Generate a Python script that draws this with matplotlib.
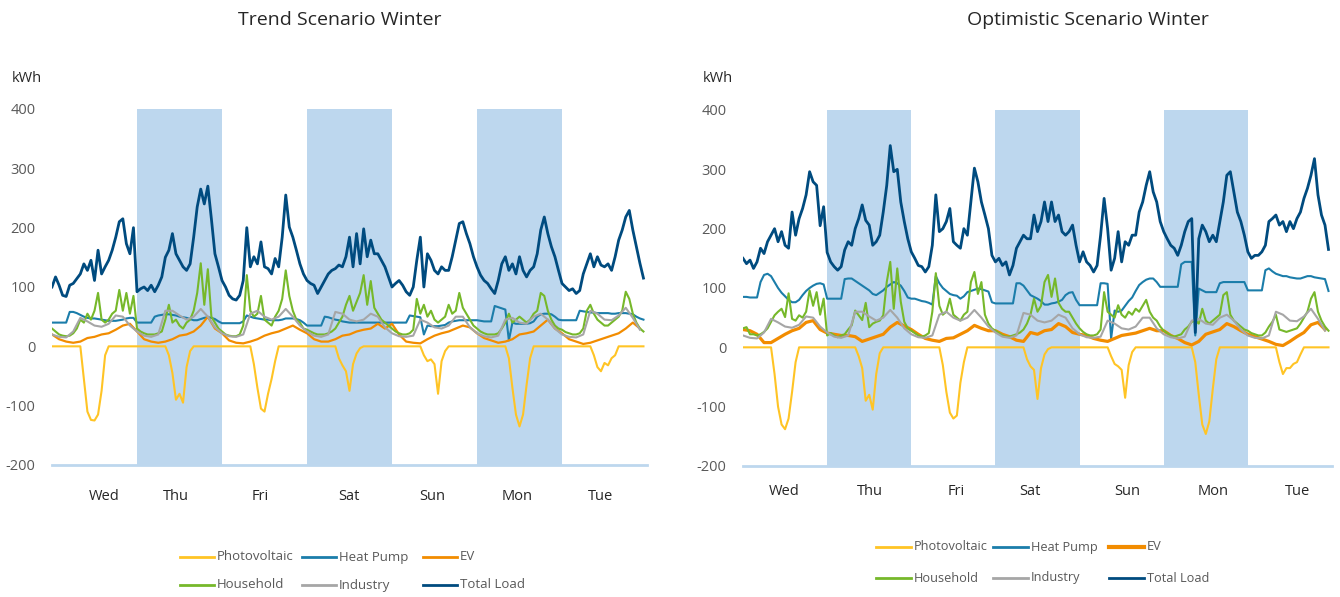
import numpy as np
import matplotlib
matplotlib.use("Agg")
import matplotlib.pyplot as plt
from matplotlib.lines import Line2D

plt.rcParams['font.family'] = ['Open Sans', 'DejaVu Sans']

# ---------------- data ----------------
days = ["Wed", "Thu", "Fri", "Sat", "Sun", "Mon", "Tue"]
shaded_days = [1, 3, 5]          # Thu, Sat, Mon
titles = ["Trend Scenario Winter", "Optimistic Scenario Winter"]
series_names = ["Photovoltaic", "Heat Pump", "EV", "Household", "Industry", "Total Load"]
unit = "kWh"
yticks = [-200, -100, 0, 100, 200, 300, 400]

# ---- Trend scenario (hourly unless noted) ----
trend_total = [
    100, 117, 103, 86, 84, 103, 106, 114, 122, 139, 128, 145, 111, 162, 122, 134, 145, 162, 184, 210, 215, 173, 156, 200,
    92, 97, 100, 94, 103, 92, 103, 117, 150, 162, 190, 156, 145, 134, 128, 139, 184, 235, 265, 240, 270, 215, 156, 134,
    111, 100, 86, 80, 78, 86, 111, 200, 134, 151, 139, 176, 134, 131, 122, 148, 134, 184, 255, 201, 184, 162, 139, 122,
    111, 106, 103, 89, 100, 111, 122, 128, 131, 137, 134, 151, 184, 134, 190, 139, 198, 151, 179, 156, 156, 145, 134, 117,
    100, 106, 111, 103, 92, 86, 100, 145, 184, 100, 156, 145, 128, 122, 134, 128, 128, 151, 179, 207, 210, 190, 173, 151,
    134, 120, 111, 106, 97, 89, 111, 139, 151, 128, 139, 122, 151, 128, 117, 128, 134, 156, 196, 218, 190, 168, 151, 128,
    106, 100, 94, 97, 89, 94, 122, 139, 156, 134, 151, 137, 134, 139, 128, 151, 179, 196, 218, 229, 196, 168, 140, 115,
]
trend_household = [
    30, 25, 20, 18, 17, 18, 22, 30, 45, 40, 55, 45, 60, 90, 45, 40, 45, 55, 60, 95, 60, 90, 55, 85,
    30, 25, 22, 20, 20, 20, 22, 25, 45, 70, 40, 45, 35, 30, 40, 45, 60, 90, 140, 70, 130, 50, 40, 30,
    25, 20, 18, 17, 17, 20, 35, 120, 60, 50, 55, 85, 45, 40, 35, 50, 60, 80, 128, 85, 60, 45, 40, 30,
    28, 25, 22, 20, 20, 20, 22, 25, 30, 40, 50, 70, 85, 60, 75, 90, 120, 70, 110, 65, 55, 45, 40, 35,
    30, 25, 22, 20, 20, 22, 28, 80, 55, 70, 50, 60, 45, 40, 45, 50, 70, 55, 60, 90, 65, 55, 45, 35,
    30, 25, 22, 20, 20, 20, 22, 30, 40, 55, 40, 45, 50, 45, 40, 45, 55, 60, 90, 85, 60, 45, 35, 30,
    28, 24, 22, 20, 20, 22, 30, 60, 70, 55, 45, 40, 35, 35, 40, 45, 50, 60, 92, 80, 55, 40, 30, 25,
]
trend_heatpump = [
    40, 40, 40, 40, 40, 58, 58, 56, 53, 50, 48, 47, 47, 46, 45, 44, 43, 43, 43, 44, 45, 47, 48, 48,
    40, 40, 40, 40, 40, 50, 52, 53, 54, 54, 53, 52, 50, 49, 48, 46, 44, 44, 46, 48, 49, 48, 46, 42,
    39, 39, 39, 39, 39, 39, 42, 52, 50, 48, 47, 46, 45, 45, 44, 44, 44, 45, 47, 47, 47, 46, 44, 40,
    35, 35, 35, 35, 35, 50, 49, 47, 45, 44, 42, 41, 40, 40, 40, 40, 40, 40, 40, 40, 40, 40, 40, 40,
    40, 40, 40, 40, 40, 52, 51, 50, 49, 20, 35, 34, 34, 34, 35, 36, 40, 42, 43, 44, 44, 44, 44, 44,
    44, 43, 42, 42, 42, 68, 66, 64, 62, 10, 40, 38, 38, 38, 38, 39, 42, 50, 54, 55, 55, 54, 50, 45,
    44, 44, 44, 44, 44, 60, 59, 58, 57, 57, 56, 56, 56, 56, 55, 55, 56, 56, 56, 55, 54, 50, 47, 45,
]
# EV every 2 hours
trend_ev = [
    20, 12, 8, 6, 8, 14, 16, 20, 22, 28, 35, 38,
    25, 12, 8, 6, 8, 12, 18, 20, 25, 35, 50, 30,
    22, 10, 6, 5, 8, 12, 18, 22, 25, 30, 35, 28,
    22, 12, 8, 8, 12, 18, 20, 25, 28, 30, 38, 30,
    38, 20, 8, 6, 5, 12, 18, 22, 25, 30, 35, 32,
    22, 14, 10, 6, 8, 12, 20, 22, 25, 35, 45, 30,
    22, 12, 8, 4, 6, 10, 14, 18, 22, 30, 40, 30,
]
trend_pv = [
    0, 0, 0, 0, 0, 0, 0, 0, 0, -55, -110, -124, -125, -115, -75, -15, 0, 0, 0, 0, 0, 0, 0, 0,
    0, 0, 0, 0, 0, 0, 0, 0, 0, -15, -45, -90, -80, -95, -35, -8, 0, 0, 0, 0, 0, 0, 0, 0,
    0, 0, 0, 0, 0, 0, 0, 0, 0, -30, -70, -105, -110, -80, -55, -25, 0, 0, 0, 0, 0, 0, 0, 0,
    0, 0, 0, 0, 0, 0, 0, 0, 0, -20, -32, -42, -75, -30, -12, -3, 0, 0, 0, 0, 0, 0, 0, 0,
    0, 0, 0, 0, 0, 0, 0, 0, 0, -15, -25, -22, -30, -80, -25, -8, 0, 0, 0, 0, 0, 0, 0, 0,
    0, 0, 0, 0, 0, 0, 0, 0, 0, -20, -70, -115, -135, -115, -65, -20, 0, 0, 0, 0, 0, 0, 0, 0,
    0, 0, 0, 0, 0, 0, 0, 0, 0, -15, -35, -42, -28, -32, -20, -15, 0, 0, 0, 0, 0, 0, 0, 0,
]

# ---- Optimistic scenario ----
opt_total = [
    150, 141, 147, 133, 144, 167, 158, 178, 189, 200, 178, 195, 172, 167, 228, 189, 217, 234, 257, 296, 279, 273, 205, 237,
    160, 144, 136, 130, 136, 164, 178, 172, 200, 217, 240, 214, 206, 172, 178, 189, 228, 273, 340, 296, 300, 245, 212, 183,
    161, 150, 138, 136, 127, 136, 172, 257, 195, 200, 212, 234, 178, 172, 167, 200, 189, 245, 302, 279, 245, 223, 200, 155,
    144, 150, 138, 144, 122, 138, 167, 178, 189, 183, 183, 223, 195, 212, 245, 212, 245, 212, 223, 195, 189, 195, 206, 172,
    144, 161, 144, 138, 127, 138, 189, 251, 200, 130, 150, 195, 144, 178, 172, 189, 189, 228, 245, 273, 296, 262, 245, 212,
    195, 183, 172, 167, 155, 172, 195, 212, 217, 25, 183, 206, 195, 178, 189, 178, 212, 245, 290, 296, 262, 228, 212, 189,
    161, 150, 155, 155, 161, 172, 212, 217, 223, 206, 212, 195, 212, 200, 217, 228, 251, 268, 290, 318, 257, 223, 206, 165,
]
opt_household = [
    32, 34, 22, 22, 20, 22, 26, 32, 43, 54, 60, 65, 51, 91, 48, 45, 54, 50, 60, 96, 70, 93, 55, 82,
    20, 24, 20, 17, 20, 22, 30, 37, 62, 54, 46, 75, 34, 40, 43, 45, 54, 110, 144, 65, 133, 77, 43, 32,
    28, 24, 20, 18, 20, 24, 60, 125, 70, 55, 60, 82, 55, 50, 45, 55, 60, 110, 127, 90, 110, 55, 40, 32,
    28, 24, 20, 18, 18, 20, 22, 25, 30, 40, 55, 82, 60, 70, 110, 122, 85, 116, 75, 65, 60, 60, 50, 40,
    32, 26, 22, 20, 20, 22, 30, 93, 60, 55, 50, 71, 55, 50, 60, 55, 65, 60, 70, 80, 60, 50, 45, 35,
    28, 24, 20, 18, 20, 22, 30, 35, 43, 45, 40, 65, 45, 40, 45, 50, 55, 88, 93, 55, 45, 40, 35, 30,
    28, 24, 22, 20, 20, 25, 35, 43, 55, 30, 28, 26, 28, 30, 32, 40, 50, 60, 82, 93, 60, 45, 35, 28,
]
opt_heatpump = [
    85, 85, 84, 84, 84, 110, 122, 124, 120, 110, 100, 92, 86, 80, 76, 76, 80, 88, 95, 100, 104, 107, 108, 106,
    82, 82, 82, 82, 82, 115, 116, 116, 112, 108, 104, 100, 96, 90, 88, 92, 96, 102, 106, 110, 108, 104, 95, 84,
    82, 82, 80, 78, 77, 75, 72, 120, 108, 100, 95, 90, 88, 87, 82, 86, 93, 95, 97, 99, 98, 96, 94, 76,
    74, 74, 74, 74, 74, 74, 108, 108, 104, 96, 88, 85, 82, 78, 72, 72, 74, 75, 77, 80, 88, 92, 93, 80,
    71, 71, 71, 71, 71, 71, 108, 108, 107, 15, 62, 60, 62, 70, 78, 84, 95, 105, 110, 114, 116, 116, 110, 102,
    102, 102, 102, 102, 102, 140, 144, 144, 144, 20, 99, 96, 93, 93, 93, 93, 108, 110, 110, 110, 110, 110, 110, 110,
    96, 96, 96, 96, 96, 130, 133, 128, 124, 122, 120, 120, 118, 117, 116, 116, 118, 120, 120, 118, 117, 116, 115, 95,
]
opt_ev = [
    30, 28, 22, 8, 8, 15, 22, 28, 32, 42, 45, 30,
    24, 22, 20, 20, 18, 10, 14, 18, 22, 34, 42, 36,
    30, 22, 15, 12, 10, 15, 16, 22, 28, 37, 32, 28,
    28, 22, 18, 12, 10, 25, 22, 28, 30, 40, 35, 25,
    22, 20, 15, 12, 10, 15, 20, 22, 24, 28, 32, 28,
    28, 20, 15, 8, 4, 10, 22, 26, 30, 40, 35, 28,
    22, 18, 14, 10, 5, 3, 10, 18, 25, 38, 42, 30,
]
opt_pv = [
    0, 0, 0, 0, 0, 0, 0, 0, 0, -45, -100, -130, -138, -120, -75, -25, 0, 0, 0, 0, 0, 0, 0, 0,
    0, 0, 0, 0, 0, 0, 0, 0, 0, -15, -35, -90, -80, -105, -45, -10, 0, 0, 0, 0, 0, 0, 0, 0,
    0, 0, 0, 0, 0, 0, 0, 0, 0, -30, -75, -110, -120, -115, -60, -25, 0, 0, 0, 0, 0, 0, 0, 0,
    0, 0, 0, 0, 0, 0, 0, 0, 0, -20, -32, -38, -87, -35, -12, -3, 0, 0, 0, 0, 0, 0, 0, 0,
    0, 0, 0, 0, 0, 0, 0, 0, 0, -15, -28, -32, -38, -85, -30, -8, 0, 0, 0, 0, 0, 0, 0, 0,
    0, 0, 0, 0, 0, 0, 0, 0, 0, -25, -80, -130, -146, -125, -70, -20, 0, 0, 0, 0, 0, 0, 0, 0,
    0, 0, 0, 0, 0, 0, 0, 0, 0, -25, -45, -35, -35, -28, -25, -12, 0, 0, 0, 0, 0, 0, 0, 0,
]

# Industry (same in both scenarios), every 2 hours
industry = [
    20, 16, 15, 25, 48, 42, 35, 33, 38, 52, 50, 35,
    25, 18, 16, 20, 60, 60, 52, 45, 50, 63, 50, 32,
    22, 17, 16, 20, 55, 60, 50, 45, 50, 63, 50, 35,
    25, 18, 16, 20, 58, 55, 45, 42, 45, 55, 50, 32,
    22, 17, 16, 18, 45, 40, 32, 30, 35, 50, 50, 32,
    22, 17, 15, 18, 45, 48, 40, 38, 50, 55, 45, 30,
    20, 16, 15, 20, 60, 55, 45, 44, 52, 65, 48, 28,
]

# ---------------- style ----------------
W, H = 1340, 597
colors = {
    "Photovoltaic": "#FFC425",
    "Heat Pump": "#1B7DAA",
    "EV": "#F28C00",
    "Household": "#76B82A",
    "Industry": "#A6A6A6",
    "Total Load": "#004B7F",
}
shade_color = "#BDD7EE"
tick_color = "#595959"
text_dark = "#262626"

fig = plt.figure(figsize=(W / 100, H / 100), dpi=100)

panels = [
    dict(rect=[52 / W, 1 - 465 / H, 595 / W, 356 / H],
         data=[trend_pv, trend_heatpump, trend_ev, trend_household, industry, trend_total],
         label_hours=[14.7, 35.0, 58.7, 83.9, 107.3, 131.3, 154.8], xpad=17,
         title_xy=(340, 20), kwh_xy=(27, 78), ev_lw=1.6,
         leg_rows=[557, 585], leg_cols=[180, 302, 423], leg_len=34, leg_fs=9.5),
    dict(rect=[743 / W, 1 - 466 / H, 589 / W, 356 / H],
         data=[opt_pv, opt_heatpump, opt_ev, opt_household, industry, opt_total],
         label_hours=[11.7, 36.2, 60.8, 81.9, 109.6, 134.1, 158.3], xpad=13,
         title_xy=(1088, 20), kwh_xy=(718, 78), ev_lw=2.3,
         leg_rows=[547, 578], leg_cols=[876, 993, 1109], leg_len=35, leg_fs=9.2),
]

for p, title in zip(panels, titles):
    ax = fig.add_axes(p["rect"])
    ax.set_xlim(0, 168)
    ax.set_ylim(-200, 400)
    for d in shaded_days:
        ax.axvspan(24 * d, 24 * (d + 1), color=shade_color, lw=0, zorder=0)
    for name, vals in zip(series_names, p["data"]):
        vals = np.asarray(vals, dtype=float)
        step = 168 / len(vals)
        x = np.arange(len(vals)) * step
        lw = 2.0 if name == "Total Load" else 1.5
        if name == "EV":
            lw = p["ev_lw"]
        ax.plot(x, vals, color=colors[name], lw=lw, solid_joinstyle="round", zorder=2)
    for s in ["top", "right", "left"]:
        ax.spines[s].set_visible(False)
    ax.spines["bottom"].set_color(shade_color)
    ax.spines["bottom"].set_linewidth(2)
    ax.set_yticks(yticks)
    ax.set_yticklabels([str(v) for v in yticks])
    ax.tick_params(axis="y", length=0, pad=12, labelsize=10.5, labelcolor=tick_color)
    ax.set_xticks(p["label_hours"])
    ax.set_xticklabels(days)
    ax.tick_params(axis="x", length=0, pad=p["xpad"], labelsize=10.5, labelcolor=text_dark)
    ax.patch.set_alpha(0)

    tx, ty = p["title_xy"]
    fig.text(tx / W, 1 - ty / H, title, ha="center", va="center", fontsize=14, color=text_dark)
    kx, ky = p["kwh_xy"]
    fig.text(kx / W, 1 - ky / H, unit, ha="center", va="center", fontsize=10.5, color=text_dark)

    # legend (3 columns x 2 rows)
    for i, name in enumerate(series_names):
        r, c = divmod(i, 3)
        y = 1 - p["leg_rows"][r] / H
        x0 = p["leg_cols"][c]
        lw = 2.0
        if name == "EV" and p["ev_lw"] > 2:
            lw = 3.0
        fig.add_artist(Line2D([x0 / W, (x0 + p["leg_len"]) / W], [y, y],
                              color=colors[name], lw=lw, transform=fig.transFigure))
        fig.text((x0 + p["leg_len"] + 3) / W, y, name, ha="left", va="center",
                 fontsize=p["leg_fs"], color=tick_color)

fig.savefig("out.png", dpi=100)
